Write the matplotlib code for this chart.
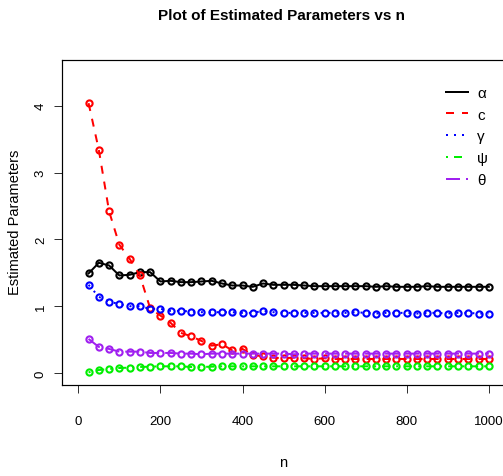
import matplotlib
matplotlib.use("Agg")
import matplotlib.pyplot as plt
from matplotlib.lines import Line2D
import numpy as np

n = list(range(25, 1001, 25))

alpha = [1.49, 1.65, 1.61, 1.46, 1.47, 1.51, 1.51, 1.37, 1.38, 1.36,
         1.36, 1.37, 1.38, 1.34, 1.31, 1.31, 1.29, 1.34, 1.32, 1.32,
         1.32, 1.31, 1.30, 1.30, 1.30, 1.30, 1.30, 1.30, 1.29, 1.30,
         1.29, 1.29, 1.29, 1.30, 1.29, 1.29, 1.29, 1.29, 1.29, 1.29]
c_par = [4.04, 3.34, 2.42, 1.92, 1.71, 1.46, 0.97, 0.86, 0.75, 0.60,
         0.55, 0.48, 0.41, 0.43, 0.34, 0.36, 0.27, 0.25, 0.23, 0.22,
         0.23, 0.22, 0.21, 0.22, 0.21, 0.21, 0.21, 0.21, 0.21, 0.21,
         0.21, 0.21, 0.21, 0.21, 0.21, 0.21, 0.21, 0.21, 0.21, 0.21]
gamma = [1.32, 1.14, 1.07, 1.03, 1.00, 1.00, 0.96, 0.96, 0.93, 0.93,
         0.92, 0.91, 0.91, 0.91, 0.91, 0.90, 0.90, 0.93, 0.91, 0.90,
         0.90, 0.90, 0.90, 0.90, 0.90, 0.90, 0.91, 0.90, 0.89, 0.90,
         0.90, 0.90, 0.89, 0.90, 0.90, 0.89, 0.90, 0.90, 0.89, 0.89]
psi = [0.01, 0.045, 0.06, 0.075, 0.08, 0.09, 0.095, 0.10, 0.10, 0.10,
       0.09, 0.09, 0.095, 0.10, 0.10, 0.10, 0.10, 0.10, 0.10, 0.10,
       0.10, 0.10, 0.10, 0.10, 0.10, 0.10, 0.10, 0.10, 0.10, 0.10,
       0.10, 0.10, 0.10, 0.10, 0.10, 0.10, 0.10, 0.10, 0.10, 0.10]
theta = [0.51, 0.39, 0.36, 0.32, 0.32, 0.32, 0.30, 0.30, 0.30, 0.29,
         0.29, 0.28, 0.29, 0.29, 0.29, 0.29, 0.29, 0.29, 0.29, 0.29,
         0.28, 0.29, 0.29, 0.29, 0.29, 0.29, 0.29, 0.29, 0.29, 0.29,
         0.29, 0.29, 0.29, 0.29, 0.29, 0.29, 0.29, 0.29, 0.29, 0.29]

labels = ["α", "c", "γ", "ψ", "θ"]
series = [alpha, c_par, gamma, psi, theta]
colors = ["black", "red", "blue", "#00ee00", "#a020f0"]
styles = ["-", (0, (4, 4)), (0, (1, 3)), (0, (1, 3, 4, 3)), (0, (7, 3))]

xticks = [0, 200, 400, 600, 800, 1000]
yticks = [0, 1, 2, 3, 4]

W, H = 503, 477
DPI = 100
fig = plt.figure(figsize=(W / DPI, H / DPI), dpi=DPI)
FONT = ["Liberation Sans", "DejaVu Sans"]
plt.rcParams['font.family'] = FONT

xlim = (-40, 1040)
ylim = (-0.18, 4.68)
x0px, xs = 78.3, 0.4105
y0px, ys = 374.0, 66.8
left = x0px + xlim[0] * xs
right = x0px + xlim[1] * xs
bottom = y0px - ylim[0] * ys
top = y0px - ylim[1] * ys
ax = fig.add_axes([left / W, 1 - bottom / H, (right - left) / W, (bottom - top) / H])

px = 72 / DPI  # points per pixel
lw = 2 * px
for vals, col, ls, lab in zip(series, colors, styles, labels):
    ax.plot(n, vals, color=col, linestyle=ls, linewidth=lw, label=lab,
            marker='o', markersize=6.2 * px, markerfacecolor='none',
            markeredgecolor=col, markeredgewidth=2.1 * px)

ax.set_xlim(*xlim)
ax.set_ylim(*ylim)
ax.set_xticks(xticks)
ax.set_yticks(yticks)
ax.set_xticklabels([str(t) for t in xticks])
ax.set_yticklabels([str(t) for t in yticks], rotation=90, va='center')
ax.tick_params(axis='both', direction='out', length=8 * px, width=1 * px,
               labelsize=9.5, color='#333333')
ax.tick_params(axis='x', pad=22 * px)
ax.tick_params(axis='y', pad=7 * px)
for s in ax.spines.values():
    s.set_linewidth(1.2 * px)
    s.set_color('black')

fig.text(282 / W, 1 - 16.5 / H, "Plot of Estimated Parameters vs n",
         ha='center', va='center', fontsize=11, fontweight='bold')
fig.text(283 / W, 1 - 463 / H, "n", ha='center', va='center', fontsize=10.5)
fig.text(15 / W, 1 - 222 / H, "Estimated Parameters", ha='center',
         va='center', rotation=90, fontsize=10.5)

handles = [Line2D([], [], color=col, linestyle=ls, linewidth=lw)
           for col, ls in zip(colors, styles)]
fs = 11
fpx = fs / px
leg = ax.legend(handles, labels, loc='upper left', frameon=False,
                bbox_to_anchor=(446 / W, 1 - 87 / H),
                bbox_transform=fig.transFigure,
                fontsize=fs, handlelength=22 / fpx, handletextpad=9 / fpx,
                labelspacing=(23 - fpx) / fpx, borderpad=0,
                borderaxespad=0)

fig.savefig("out.png", dpi=DPI)
